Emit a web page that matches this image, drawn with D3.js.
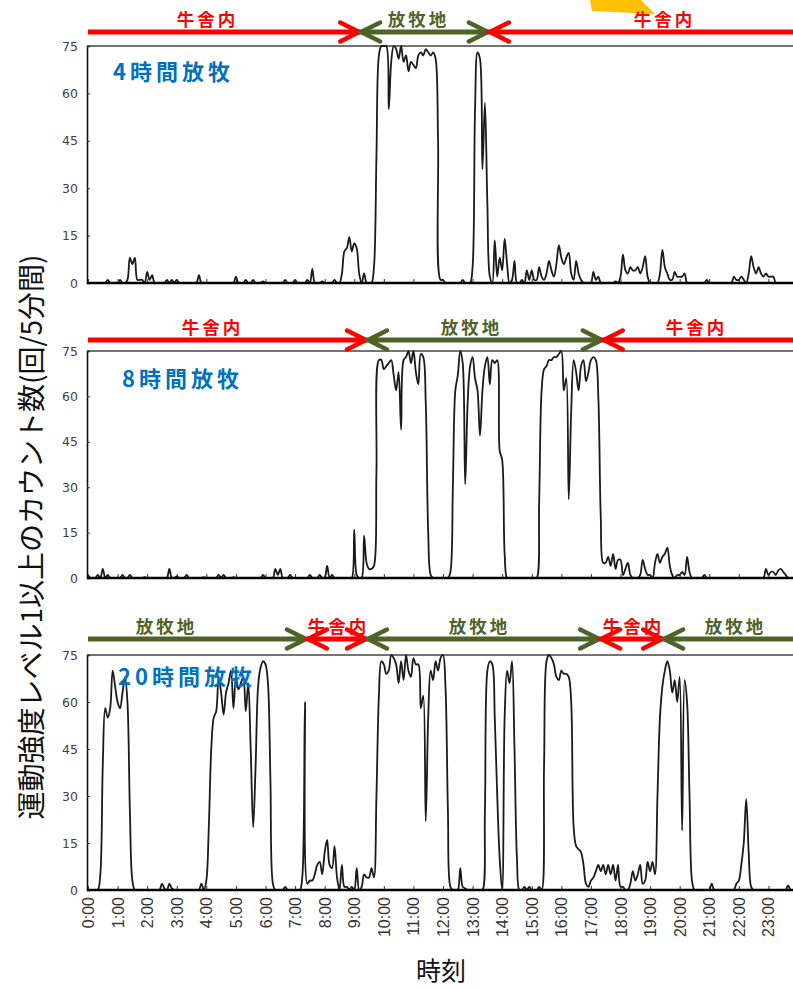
<!DOCTYPE html>
<html><head><meta charset="utf-8">
<script src="https://cdn.jsdelivr.net/npm/d3@7"></script>
<style>html,body{margin:0;padding:0;background:#fff;}svg{display:block;}</style>
</head><body>
<script>
// ---------- data ----------
const hourLabels = d3.range(24).map(h => h + ":00");
const yTicks = [0, 15, 30, 45, 60, 75];
const panelTitles = ["4時間放牧", "8時間放牧", "20時間放牧"];
const yAxisTitle = "運動強度レベル1以上のカウント数(回/5分間)";
const xAxisTitle = "時刻";

// 5-minute counts (12 values per hour)
const grazing4h = [
  0,0,0,0,0,0,0,0,1,0,0,0,
  0,1,0,0,1,8,6,8,1,1,1,0,
  3.5,1,2.5,0,0,0,0,0,1,0,1,0,
  1,0,0,0,0,0,0,0,0,2.5,0,0,
  0,0,0,0,0,0,0,0,0,0,0,0,
  2,0,0,0,1,0,0,1,0,0,0,0.5,
  0,0,0,0,0,0,0,0,1,0,0,0,
  1,0,0,0,0,1,0,4.5,0,0,0,0.5,
  0,0,0,0,1,0,0,3,10,11,14.5,10,
  12.5,11,3,0,3,0,0,0,5,40,72,75,
  75,75,55,70,75,74,71,75,70,72,67,70,
  69,68,72,73,72,74,73,72,73,71,45,1,
  1,0,0,0,0,0,0,0,1,0,0,0,
  5,55,73,71,36,57,25,2,0,13.5,2,8,
  4,14,6,0,1,7,0,0,1,0,4,1,
  4,1,1,5,2,1,3,7,4,2,6,12,
  8,6,8,9.5,3,1,7,3,1,0,0,0,
  0,3.5,1,2,0,0,0,0,0,0,0.5,0,
  2,9,4,3,5,4,4,5,3,5,8.5,2,
  0,0,0,0,3,10.5,5,3,1,1,3.5,2,
  2,2,3,0,0,0,0,0,0,0,0,1,
  0,0,0,0,0,0,0,0,0,0,2,1,
  1,2,1,0,3,8.5,5,3,5,3,2,3,
  2,2,2,0,0,0,0,0,0,0,0,0
];
const grazing8h = [
  1,0,0,0,1,0,3,0,1,0,0,0,
  0,0,1,0,0,1,0,0,0,0,0,0.3,
  0,0,0,0,0,0,0,0,0,3,0,0,
  0.5,0,0,0,1,0,0,0,0,0,0,0.3,
  0,0,0,0,0,1,0,1,0,0,0,0.3,
  0,0,0,0,0,0,0,0,0,0,0,1,
  0,0,0,0,3,1,3,0,0,0,1,0,
  0,0,0,0,0,0,1,0,0,0,1,0,
  0,4,0,1,0,0,0,0,0,0,0,0,
  16,1,0,0,14,5,3,3,4,35,72,72,
  69,70,71,72,67,62,68,49,72,73,75,71,
  75,68,64,74,73,58,15,1,0,0,0,0,
  0,0,0,2,30,62,67,75,71,31,58,70,
  73,66,62,47,62,70,73,64,72,71,72,42,
  39,8,0,0,0,0,0,0,0,0,0,0,
  0,0,0,25,62,69,70,72,72,73,73,74,
  75,62,66,26,55,72,68,62,70,72,65,68,
  72,73,72,60,20,5,5,7,4,8,3,6,
  6,1,3,5,1,0,0,0,1,6,3,1,
  1,0,5,8,5,7,8,10,4,1,0,1,
  1,2,1,7,2,0,0,0,0,0,1,0,
  0,0,0,0,0,0,0,0,0,0,0,0,
  0,0,0,0,0,0,0,0,0,0,0,3,
  1,2,2,1,2.5,3,2,1,0,0,0,0
];
const grazing20h = [
  0,0,0,0,0,5,40,58,55,58,70,65,
  60,58,63,68,60,25,3,0,0,0,0,0,
  0,0,0,0,0,0,2,0.5,0,2,0.5,0,
  0,0,0,0,0,0,0,0,0,0,2,0,
  3,20,45,55,57,68,63,56,63,66,70,58,
  68,64,66,68,57,66,45,20,40,65,71,73,
  72,66,35,2,0,0,0,0,1,0,0,0,
  0,0,0,5,60,2,3,3,5,8,9,5,
  12,16,8,7,14,4,0,8,1,1,0,1,
  0,7,0,1,5,4,4,7,4,30,62,73,
  72,69,70,75,74,72,66,73,67,75,70,68,
  74,72,72,58,62,22,55,70,67,73,70,74,
  75,65,25,1,0,0,0,7,1,0.5,0,0,
  0,0,0,0,0,25,70,73,72,55,30,10,
  0,55,70,66,73,45,10,0,0,1,0,1,
  0,0,0,1,0,40,73,75,74,72,68,67,
  70,69,69,68,60,20,14,13,12,8,2,1,
  3,4,6,8,6,8,5,8,5,8,3,8,
  1,1,0,0,2,6,3,5,8,2,3,9,
  6,9,5,30,55,65,70,73,70,63,67,60,
  68,19,67,60,30,3,0,0,0,0,0,0,
  0,2,0,0,0,0,0,0,0,0,0,2,
  3,8,15,29,12,1,0,0,0,0,0,0,
  0,0,0,0,0,0,0,0,1.5,0,0,0
];

// location zones (hours) with label anchor times
const zones4h = [
  {place: "牛舎内", kind: "barn", from: 0, to: 9.2, labelAt: 3.99},
  {place: "放牧地", kind: "pasture", from: 9.2, to: 13.55, labelAt: 11.12},
  {place: "牛舎内", kind: "barn", from: 13.55, to: 24, labelAt: 19.44}
];
const zones8h = [
  {place: "牛舎内", kind: "barn", from: 0, to: 9.43, labelAt: 4.16},
  {place: "放牧地", kind: "pasture", from: 9.43, to: 17.4, labelAt: 12.91},
  {place: "牛舎内", kind: "barn", from: 17.4, to: 24, labelAt: 20.52}
];
const zones20h = [
  {place: "放牧地", kind: "pasture", from: 0, to: 7.4, labelAt: 2.6},
  {place: "牛舎内", kind: "barn", from: 7.4, to: 9.43, labelAt: 8.42},
  {place: "放牧地", kind: "pasture", from: 9.43, to: 17.31, labelAt: 13.18},
  {place: "牛舎内", kind: "barn", from: 17.31, to: 19.44, labelAt: 18.39},
  {place: "放牧地", kind: "pasture", from: 19.44, to: 24, labelAt: 21.84}
];

// ---------- drawing ----------
const W = 793, H = 990;
const zoneColor = {barn: "#FF0000", pasture: "#4F6228"};
const svg = d3.select("body").append("svg").attr("width", W).attr("height", H)
  .attr("viewBox", `0 0 ${W} ${H}`);

const x = d3.scaleLinear().domain([0, 24]).range([88, 798]);
const left = 87, right = 793;

const panels = [
  {data: grazing4h, zones: zones4h, title: panelTitles[0], top: 46, bottom: 283, arrowY: 32, titleX: 113, titleY: 80},
  {data: grazing8h, zones: zones8h, title: panelTitles[1], top: 351, bottom: 578, arrowY: 340, titleX: 122, titleY: 387},
  {data: grazing20h, zones: zones20h, title: panelTitles[2], top: 655, bottom: 890, arrowY: 639, titleX: 118, titleY: 685}
];

// decorative orange shape at the top
svg.append("polygon").attr("points", "590,0 641,0 655,14 592,11").attr("fill", "#FFC000");

panels.forEach((p, pi) => {
  const y = d3.scaleLinear().domain([0, 75]).range([p.bottom, p.top]);
  const g = svg.append("g");

  const clipId = "clip" + pi;
  svg.append("clipPath").attr("id", clipId).append("rect")
    .attr("x", left).attr("y", p.top - 3).attr("width", right - left).attr("height", p.bottom - p.top + 3);

  // frame: top line
  g.append("line").attr("x1", left).attr("x2", right).attr("y1", p.top).attr("y2", p.top)
    .attr("stroke", "#444").attr("stroke-width", 1.6);

  // data line
  const line = d3.line()
    .x((d, i) => x(i / 12))
    .y(d => y(d))
    .curve(d3.curveCatmullRom.alpha(0.5));
  g.append("path").datum(p.data)
    .attr("clip-path", `url(#${clipId})`)
    .attr("d", line).attr("fill", "none")
    .attr("stroke", "#1a1a1a").attr("stroke-width", 1.8).attr("stroke-linejoin", "round");

  // y axis
  const yAxis = d3.axisLeft(y).tickValues(yTicks).tickSize(-3).tickPadding(9);
  const ya = g.append("g").attr("transform", `translate(${left},0)`).call(yAxis);
  ya.select(".domain").attr("stroke", "#111").attr("stroke-width", 1.6);
  ya.selectAll(".tick line").attr("stroke", "#333");
  ya.selectAll(".tick text").attr("font-family", "'DejaVu Sans', Verdana, sans-serif")
    .attr("font-size", 12.5).attr("fill", "#404040");

  // x axis (baseline with upward ticks)
  const xAxis = d3.axisBottom(x).tickValues(d3.range(0, 24)).tickSize(-4).tickFormat("");
  const xa = g.append("g").attr("transform", `translate(0,${p.bottom})`).call(xAxis);
  xa.select(".domain").remove();
  xa.selectAll(".tick line").attr("stroke", "#333");
  g.append("line").attr("x1", left).attr("x2", right).attr("y1", p.bottom).attr("y2", p.bottom)
    .attr("stroke", "#000").attr("stroke-width", 2.4);

  // zone arrows
  const ag = svg.append("g");
  p.zones.forEach(z => {
    const c = zoneColor[z.kind];
    const x0 = Math.max(x(z.from), left), x1 = Math.min(x(z.to), right);
    ag.append("line").attr("x1", x0).attr("x2", x1).attr("y1", p.arrowY).attr("y2", p.arrowY)
      .attr("stroke", c).attr("stroke-width", 5);
    const head = (tip, dir) => {
      ag.append("path")
        .attr("d", `M${tip - dir * 19},${p.arrowY - 9.5} L${tip},${p.arrowY} L${tip - dir * 19},${p.arrowY + 9.5}`)
        .attr("fill", "none").attr("stroke", c).attr("stroke-width", 4.5)
        .attr("stroke-linecap", "round").attr("stroke-linejoin", "miter");
    };
    if (z.from > 0) head(x(z.from) + 1, -1);
    if (z.to < 24) head(x(z.to) - 1, 1);
    ag.append("text").attr("x", x(z.labelAt) + 1.5).attr("y", p.arrowY - 6)
      .attr("text-anchor", "middle").attr("font-family", "'Noto Sans CJK JP', sans-serif")
      .attr("font-weight", "bold").attr("font-size", 17.5).attr("letter-spacing", 3)
      .attr("fill", c).text(z.place);
  });

  // panel title
  svg.append("text").attr("x", p.titleX).attr("y", p.titleY)
    .attr("font-family", "'Noto Sans CJK JP', sans-serif").attr("font-weight", "bold")
    .attr("font-size", 22).attr("letter-spacing", 4).attr("fill", "#0070C0").text(p.title);
});

// hour labels under the last panel
const last = panels[panels.length - 1];
svg.append("g").selectAll("text").data(hourLabels).join("text")
  .attr("transform", (d, i) => `translate(${x(i) + 6},${last.bottom + 7}) rotate(-90)`)
  .attr("text-anchor", "end")
  .attr("font-family", "'Liberation Sans', Arial, sans-serif").attr("font-size", 16)
  .attr("fill", "#333").text(d => d);

// axis titles
svg.append("text").attr("transform", "translate(30,537) rotate(-90)")
  .attr("text-anchor", "middle").attr("dominant-baseline", "central")
  .attr("font-family", "'Noto Sans CJK JP', sans-serif").attr("font-size", 28)
  .attr("fill", "#111").text(yAxisTitle);
svg.append("text").attr("x", 441).attr("y", 980).attr("text-anchor", "middle")
  .attr("font-family", "'Noto Sans CJK JP', sans-serif").attr("font-size", 25)
  .attr("fill", "#111").text(xAxisTitle);
</script>
</body></html>
